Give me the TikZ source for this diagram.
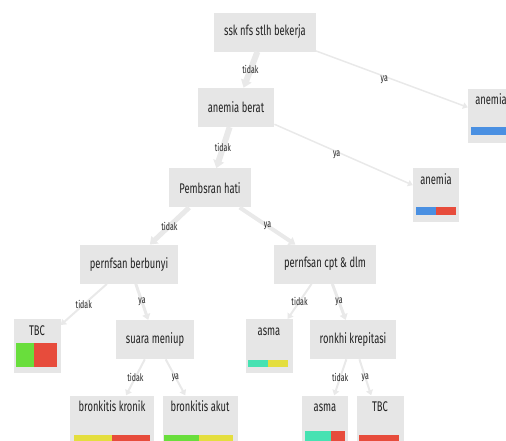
\documentclass[tikz,border=0pt]{standalone}
\usepackage{fontspec}
\setmainfont{Fira Sans}[FakeStretch=0.67]
\usetikzlibrary{positioning, arrows.meta}

\definecolor{boxgray}{RGB}{230,230,230}
\definecolor{edgegray}{RGB}{233,233,233}
\definecolor{txt}{RGB}{34,34,34}
\definecolor{cblue}{RGB}{74,144,226}
\definecolor{cred}{RGB}{231,76,60}
\definecolor{cgreen}{RGB}{105,222,60}
\definecolor{cyellow}{RGB}{228,222,62}
\definecolor{cteal}{RGB}{70,226,178}

\begin{document}
\begin{tikzpicture}[
    x=1pt, y=1pt,
    node distance=36pt,
    every node/.style={font=\fontsize{14}{16}\selectfont, text=txt},
    split/.style={fill=boxgray, minimum height=39pt, inner xsep=10pt},
    leaf/.style={fill=boxgray, minimum width=46pt, inner xsep=2pt, inner ysep=0pt, text height=16pt, text depth=38pt},
    branch/.style={draw=edgegray, line width=#1, -{Triangle[length=4pt 0.6, width=5pt 1]}},
    elabel/.style={font=\fontsize{10.5}{12}\selectfont, text=txt, inner sep=1pt}
]

\useasboundingbox (0,0) rectangle (506,-440);
\clip (0,0) rectangle (506,-440);

% Decision nodes
\node[split] (root) at (265,-32) {ssk nfs stlh bekerja};
\node[split, below=36pt of root, xshift=-29pt] (ab) {anemia berat};
\node[split, below=41pt of ab, xshift=-26pt] (ph) {Pembsran hati};
\node[split, below=37pt of ph, xshift=-81pt] (pb) {pernfsan berbunyi};
\node[split, below=37pt of ph, xshift=115pt] (pc) {pernfsan cpt \& dlm};
\node[split, below=36pt of pb, xshift=26pt] (sm) {suara meniup};
\node[split, below=36pt of pc, xshift=28pt] (rk) {ronkhi krepitasi};

% Leaves
\node[leaf, below=37pt of root, xshift=226pt] (anemR) {anemia};
\node[leaf, below=41pt of ab, xshift=200pt] (anemM) {anemia};
\node[leaf, minimum width=47pt, below=35pt of pb, xshift=-92pt] (tbcA) {TBC};
\node[leaf, minimum width=47pt, below=35pt of pc, xshift=-56pt] (asmaA) {asma};
\node[leaf, minimum width=84pt, below=36pt of sm, xshift=-43pt] (bk) {bronkitis kronik};
\node[leaf, minimum width=75pt, below=36pt of sm, xshift=45pt] (ba) {bronkitis akut};
\node[leaf, below=36pt of rk, xshift=-28pt] (asmaB) {asma};
\node[leaf, minimum width=47pt, below=36pt of rk, xshift=27pt] (tbcB) {TBC};

% Branches
\draw[branch=6pt] (root) -- node[elabel] {tidak} (ab);
\draw[branch=1.5pt] (root) -- node[elabel, pos=0.45, yshift=-3pt] {ya} (anemR);
\draw[branch=6pt] (ab) -- node[elabel] {tidak} (ph);
\draw[branch=1.5pt] (ab) -- node[elabel, pos=0.45, yshift=-3pt] {ya} (anemM);
\draw[branch=5pt] (ph) -- node[elabel] {tidak} (pb);
\draw[branch=4pt] (ph) -- node[elabel] {ya} (pc);
\draw[branch=2pt] (pb) -- node[elabel] {tidak} (tbcA);
\draw[branch=3pt] (pb) -- node[elabel] {ya} (sm);
\draw[branch=2pt] (pc) -- node[elabel] {tidak} (asmaA);
\draw[branch=3pt] (pc) -- node[elabel] {ya} (rk);
\draw[branch=2pt] (sm) -- node[elabel] {tidak} (bk);
\draw[branch=2pt] (sm) -- node[elabel] {ya} (ba);
\draw[branch=2pt] (rk) -- node[elabel] {tidak} (asmaB);
\draw[branch=2pt] (rk) -- node[elabel] {ya} (tbcB);

% Class bars
\fill[cblue] ([shift={(3,-38)}]anemR.north west) rectangle ([shift={(43,-46)}]anemR.north west);
\fill[cblue] ([shift={(3,-39)}]anemM.north west) rectangle ([shift={(23,-47)}]anemM.north west);
\fill[cred] ([shift={(23,-39)}]anemM.north west) rectangle ([shift={(43,-47)}]anemM.north west);
\fill[cgreen] ([shift={(3,-24)}]tbcA.north west) rectangle ([shift={(21,-48)}]tbcA.north west);
\fill[cred] ([shift={(21,-24)}]tbcA.north west) rectangle ([shift={(44,-48)}]tbcA.north west);
\fill[cteal] ([shift={(3,-41)}]asmaA.north west) rectangle ([shift={(23,-48)}]asmaA.north west);
\fill[cyellow] ([shift={(23,-41)}]asmaA.north west) rectangle ([shift={(43,-48)}]asmaA.north west);
\fill[cyellow] ([shift={(4,-40)}]bk.north west) rectangle ([shift={(42,-48)}]bk.north west);
\fill[cred] ([shift={(42,-40)}]bk.north west) rectangle ([shift={(80,-48)}]bk.north west);
\fill[cgreen] ([shift={(2,-40)}]ba.north west) rectangle ([shift={(37,-48)}]ba.north west);
\fill[cyellow] ([shift={(37,-40)}]ba.north west) rectangle ([shift={(71,-48)}]ba.north west);
\fill[cteal] ([shift={(3,-36)}]asmaB.north west) rectangle ([shift={(29,-48)}]asmaB.north west);
\fill[cred] ([shift={(29,-36)}]asmaB.north west) rectangle ([shift={(43,-48)}]asmaB.north west);
\fill[cred] ([shift={(3,-40)}]tbcB.north west) rectangle ([shift={(43,-48)}]tbcB.north west);

\end{tikzpicture}
\end{document}
